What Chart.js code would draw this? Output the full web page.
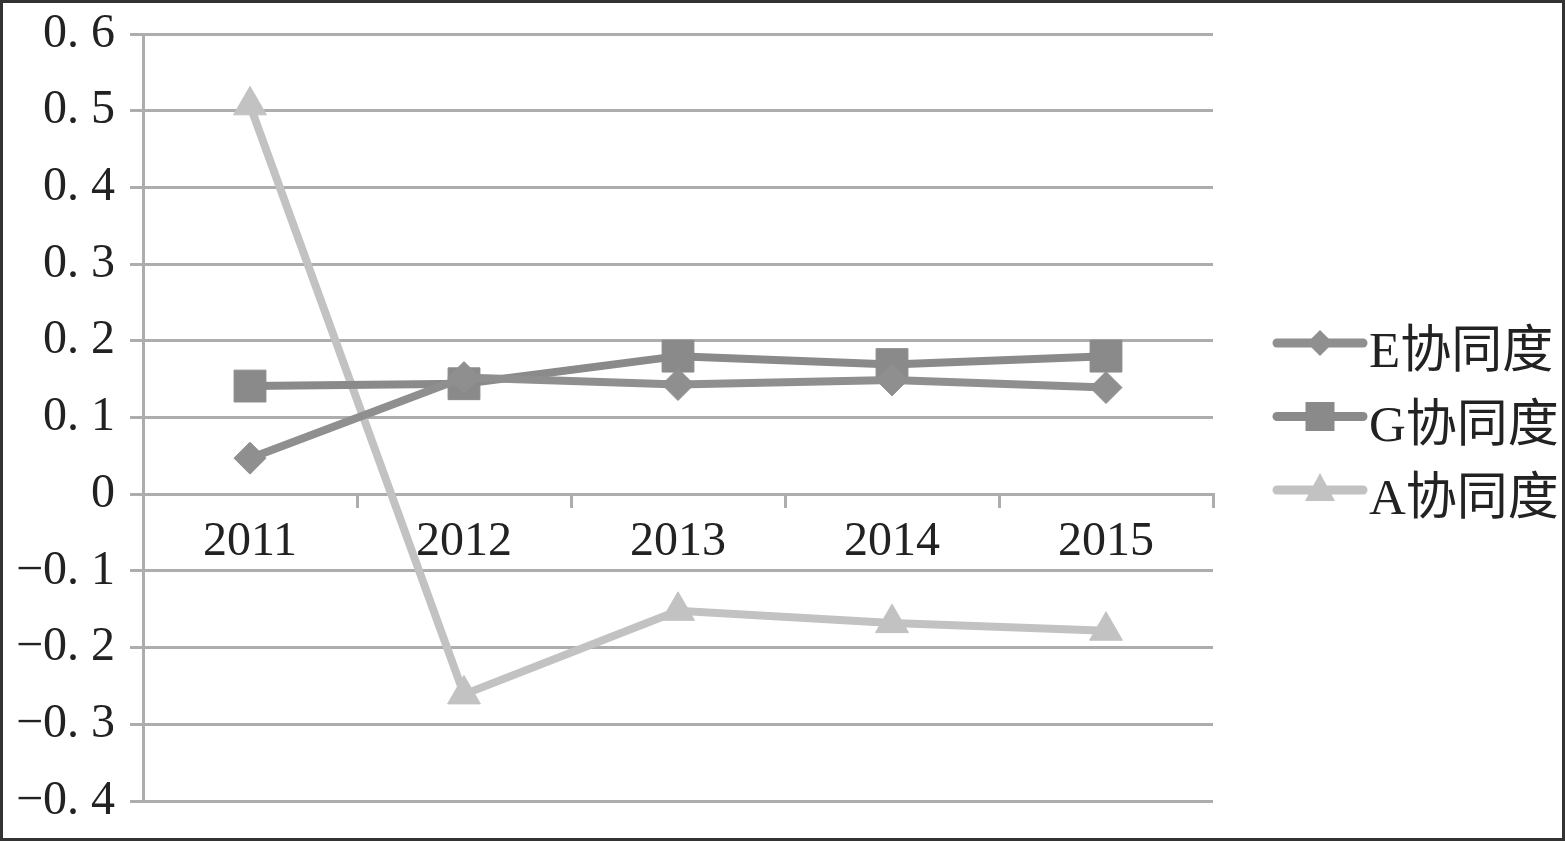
<!DOCTYPE html>
<html>
<head>
<meta charset="utf-8">
<script src="https://cdn.jsdelivr.net/npm/chart.js@4"></script>
<style>
  html, body { margin: 0; padding: 0; background: #fff; }
  #wrap { width: 1565px; height: 841px; }
</style>
</head>
<body>
<div id="wrap"><canvas id="myChart"></canvas></div>
<script>
const years = ['2011', '2012', '2013', '2014', '2015']
const seriesNames = ['E协同度', 'G协同度', 'A协同度']
const eValues = [0.047, 0.152, 0.143, 0.149, 0.139]
const gValues = [0.141, 0.144, 0.180, 0.169, 0.180]
const aValues = [0.507, -0.261, -0.152, -0.168, -0.178]
const yTicks = [0.6, 0.5, 0.4, 0.3, 0.2, 0.1, 0, -0.1, -0.2, -0.3, -0.4]

const colors = ['#8f8f8f', '#8a8a8a', '#c2c2c2']
const markers = ['rectRot', 'rect', 'triangle']
const gridColor = '#adadad'
const serif = '"Liberation Serif", "Noto Sans CJK SC", serif'

function formatTick (v) {
  const n = Math.round(v * 10)
  if (n === 0) return '0'
  return (n < 0 ? '\u2212' : '') + '0. ' + Math.abs(n)
}

// frame round the picture
const framePlugin = {
  id: 'frame',
  afterDraw (chart) {
    const c = chart.ctx
    c.save()
    c.strokeStyle = '#333'
    c.lineWidth = 3
    c.strokeRect(1.5, 1.5, chart.width - 3, chart.height - 3)
    c.restore()
  }
}

// legend on the right: line with marker, then name
const legendPlugin = {
  id: 'sideLegend',
  afterDraw (chart) {
    const c = chart.ctx
    c.save()
    seriesNames.forEach((name, i) => {
      const y = 343 + i * 73.5
      c.strokeStyle = colors[i]
      c.fillStyle = colors[i]
      c.lineWidth = 9
      c.lineCap = 'round'
      c.beginPath()
      c.moveTo(1277, y)
      c.lineTo(1363, y)
      c.stroke()
      c.beginPath()
      if (markers[i] === 'rectRot') {
        c.moveTo(1320, y - 13); c.lineTo(1333, y); c.lineTo(1320, y + 13); c.lineTo(1307, y)
      } else if (markers[i] === 'rect') {
        c.rect(1320 - 14.5, y - 14.5, 29, 29)
      } else {
        c.moveTo(1320, y - 17); c.lineTo(1335, y + 11); c.lineTo(1305, y + 11)
      }
      c.closePath()
      c.fill()
      c.fillStyle = '#222'
      c.font = '51px ' + serif
      c.textBaseline = 'alphabetic'
      c.textAlign = 'left'
      c.fillText(name, 1369, y + 24)
    })
    c.restore()
  }
}

const values = [eValues, gValues, aValues]
const radii = [16, 22.5, 19]

function noPad (scale) {
  scale.paddingTop = 0
  scale.paddingBottom = 0
  scale.paddingLeft = 0
  scale.paddingRight = 0
}

const config = {
  type: 'line',
  data: {
    labels: years,
    datasets: seriesNames.map((name, i) => ({
      label: name,
      data: values[i],
      borderColor: colors[i],
      backgroundColor: colors[i],
      borderWidth: 8,
      pointStyle: markers[i],
      pointRadius: radii[i],
      pointHoverRadius: radii[i],
      pointBorderWidth: 1,
      pointBorderColor: colors[i],
      pointBackgroundColor: colors[i],
      tension: 0
    }))
  },
  plugins: [framePlugin, legendPlugin],
  options: {
    responsive: true,
    maintainAspectRatio: false,
    animation: false,
    layout: {
      padding: { left: 0, top: 34, right: 352, bottom: 40 }
    },
    plugins: {
      legend: { display: false },
      tooltip: { enabled: false }
    },
    scales: {
      x: {
        type: 'category',
        position: { y: 0 },
        offset: true,
        afterFit: noPad,
        grid: {
          offset: true,
          drawOnChartArea: false,
          drawTicks: true,
          tickLength: 12,
          color: gridColor,
          lineWidth: 3
        },
        border: { display: true, color: gridColor, width: 3 },
        ticks: {
          color: '#222',
          font: { family: serif, size: 48 },
          padding: 7,
          maxRotation: 0,
          autoSkip: false
        }
      },
      y: {
        min: yTicks[yTicks.length - 1],
        max: yTicks[0],
        afterFit (scale) {
          scale.width = 143
          noPad(scale)
        },
        grid: {
          color: gridColor,
          lineWidth: 3,
          tickLength: 13
        },
        border: { display: true, color: gridColor, width: 3 },
        ticks: {
          stepSize: 0.1,
          color: '#222',
          font: { family: serif, size: 48 },
          padding: 15,
          callback: v => formatTick(v)
        }
      }
    }
  }
}

const chart = new Chart(document.getElementById('myChart'), config)
</script>
</body>
</html>
